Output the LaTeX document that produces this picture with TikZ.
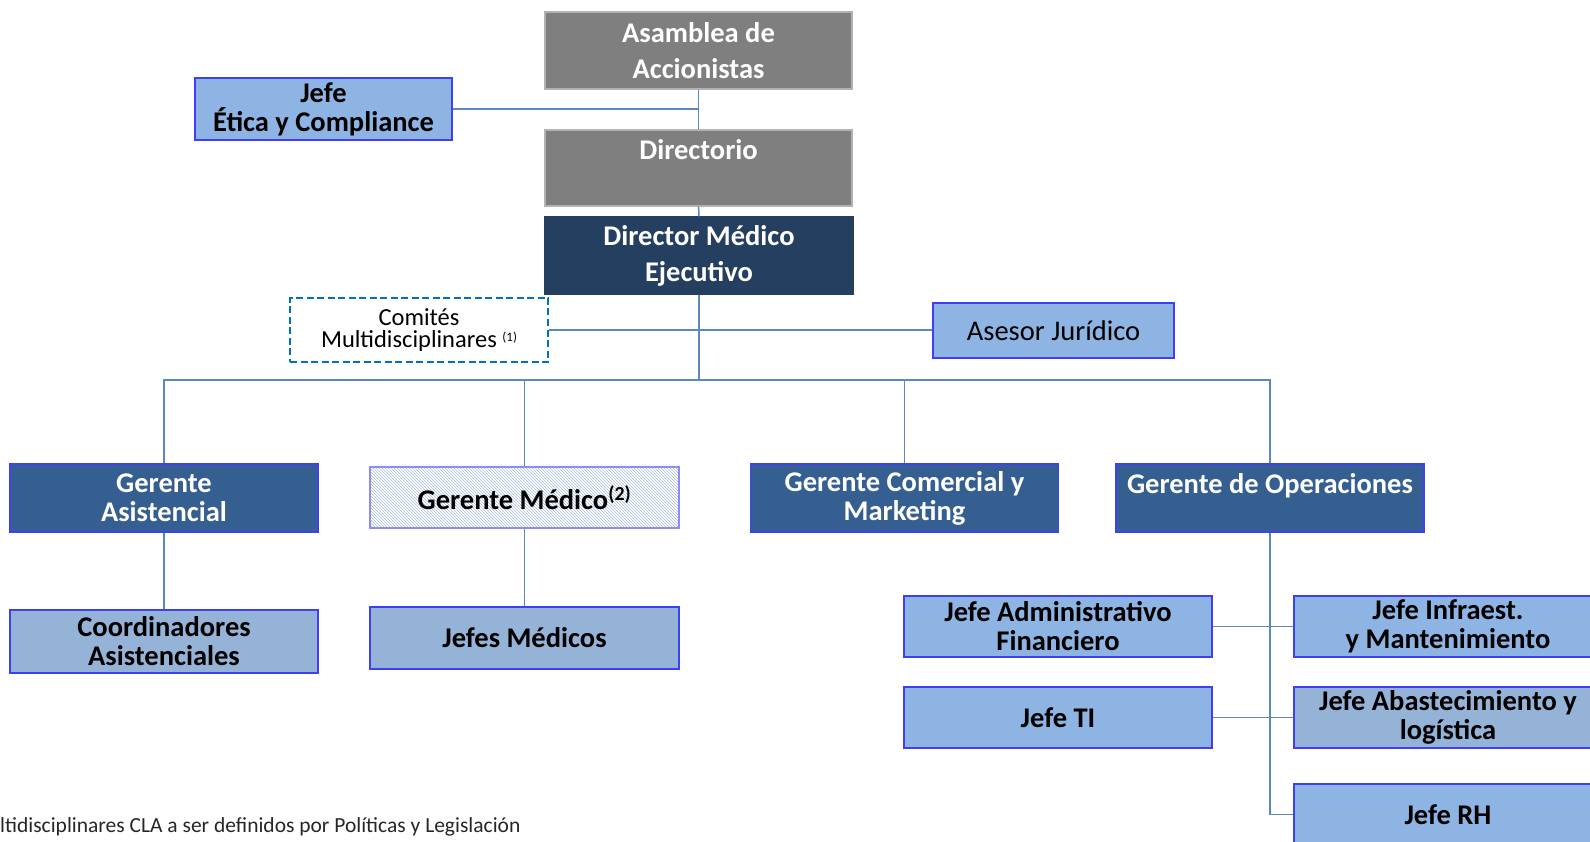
\documentclass[tikz,border=0pt]{standalone}
\usepackage{fontspec}
\setmainfont{Carlito}
\usetikzlibrary{patterns}
\definecolor{gris}{HTML}{7F7F7F}
\definecolor{marino}{HTML}{243F60}
\definecolor{azulg}{HTML}{365F91}
\definecolor{celeste}{HTML}{8DB4E2}
\definecolor{celesteb}{HTML}{95B3D7}
\definecolor{borde}{HTML}{3F3FF5}
\definecolor{linea}{HTML}{5B87C2}
\definecolor{trazo}{HTML}{0070C0}
\definecolor{rayado}{HTML}{A9BCD6}
\begin{document}
\begin{tikzpicture}[x=1pt,y=-1pt,
  caja/.style={draw=borde,line width=1.2pt,inner sep=0pt,align=center,
    minimum width=308pt,minimum height=61pt,
    font=\bfseries\fontsize{28.5}{29}\selectfont},
  consejo/.style={caja,draw=gris!60,fill=gris,text=white,minimum width=307pt,
    font=\bfseries\fontsize{28.5}{36}\selectfont},
  ejecutivo/.style={caja,draw=marino,fill=marino,text=white,
    font=\bfseries\fontsize{28.5}{36}\selectfont},
  gerente/.style={caja,fill=azulg,text=white,minimum height=68pt},
  jefe/.style={caja,fill=celeste},
  jefeb/.style={caja,fill=celesteb},
  enlace/.style={draw=linea,line width=1.5pt}]
\useasboundingbox (0,0) rectangle (1590,842);

% alta direccion
\node[consejo,minimum height=77pt] (asamblea) at (698.5,50.5) {Asamblea de\\Accionistas};
\node[consejo,minimum height=76pt] (directorio) at (698.5,168) {Directorio\\\mbox{}};
\node[ejecutivo,minimum height=77pt] (dme) at (699,255.5) {Director Médico\\Ejecutivo};
\node[jefe,minimum width=257pt,minimum height=62pt] (etica) at (323.5,109)
  {Jefe\\Ética y Compliance};
\node[caja,draw=trazo,dashed,line width=2.5pt,dash pattern=on 7pt off 3.5pt,
  minimum width=258pt,minimum height=64pt,
  font=\fontsize{24.5}{22}\selectfont] (comites) at (419,330)
  {Comités\\Multidisciplinares \raisebox{6pt}{\fontsize{13}{13}\selectfont(1)}};
\node[jefe,minimum width=241pt,minimum height=55pt,font=\fontsize{28.5}{29}\selectfont]
  (asesor) at (1053.5,330.5) {Asesor Jurídico};

% gerencias
\node[gerente] (gasis) at (164,498) {Gerente\\Asistencial};
\node[caja,draw=borde!60,pattern=north west lines,pattern color=rayado,
  minimum width=309pt] (gmed) at (524.5,497.5) {Gerente Médico\textsuperscript{(2)}};
\node[gerente] (gcom) at (904.5,498) {Gerente Comercial y\\Marketing};
\node[gerente] (gope) at (1270,498) {Gerente de Operaciones\\\mbox{}};

% jefaturas
\node[jefeb,minimum height=63pt] (coord) at (164,641.5) {Coordinadores\\Asistenciales};
\node[jefeb,minimum width=309pt,minimum height=62pt] (jmed) at (524.5,638) {Jefes Médicos};
\node[jefe] (jadm) at (1058,626.5) {Jefe Administrativo\\Financiero};
\node[jefe] (jinf) at (1448,626.5) {Jefe Infraest.\\y Mantenimiento};
\node[jefe] (jti) at (1058,717.5) {Jefe TI};
\node[jefeb] (jaba) at (1448,717.5) {Jefe Abastecimiento y\\logística};
\node[jefe] (jrh) at (1448,814.5) {Jefe RH};

\node[anchor=west,inner sep=0pt,text=black!85,font=\fontsize{21.5}{22}\selectfont]
  (nota) at (0,827) {ltidisciplinares CLA a ser definidos por Políticas y Legislación};

% lineas
\coordinate (bus) at (699,380);
\draw[enlace] (asamblea) -- (directorio);
\draw[enlace] (etica.east) -- (etica.east -| asamblea.south);
\draw[enlace] (directorio) -- (dme);
\draw[enlace] (dme.south) -- (bus);
\draw[enlace] (comites.east) -- (comites.east -| asesor.west);
\draw[enlace] (gasis.north) |- (bus) -| (gope.north);
\draw[enlace] (gmed.north) -- (gmed.north |- bus);
\draw[enlace] (gcom.north) -- (gcom.north |- bus);
\draw[enlace] (gasis) -- (coord);
\draw[enlace] (gmed) -- (jmed);
\draw[enlace] (gope.south) |- (jrh.west);
\draw[enlace] (jadm.east) -- (jinf.west);
\draw[enlace] (jti.east) -- (jaba.west);
\end{tikzpicture}
\end{document}
